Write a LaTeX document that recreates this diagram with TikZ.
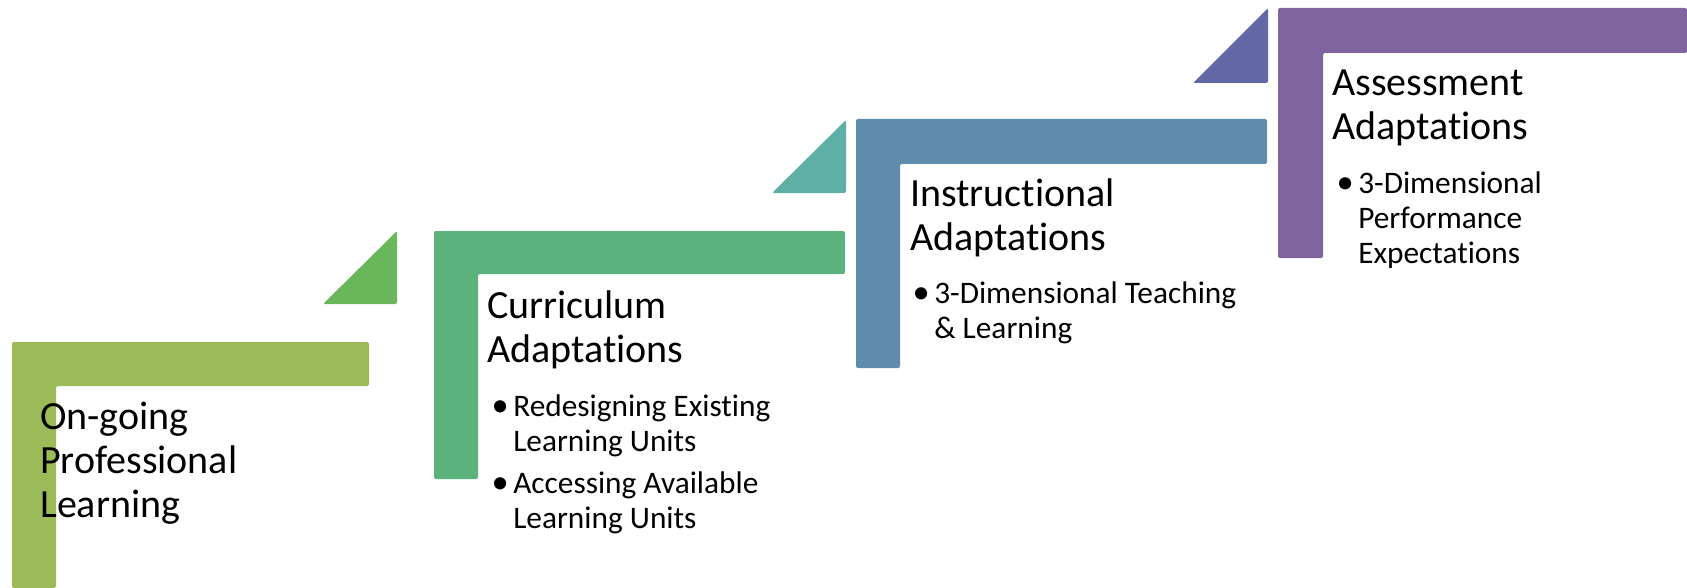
\documentclass[tikz,border=0pt]{standalone}
\usepackage{fontspec}
\setmainfont{Carlito}[Ligatures=NoCommon]
\definecolor{stepone}{RGB}{155,187,89}
\definecolor{triaone}{RGB}{106,182,90}
\definecolor{steptwo}{RGB}{92,178,125}
\definecolor{triatwo}{RGB}{94,175,165}
\definecolor{stepthree}{RGB}{95,140,172}
\definecolor{triathree}{RGB}{98,104,165}
\definecolor{stepfour}{RGB}{128,100,160}
\newcommand{\stepdot}{\makebox[12.75pt][l]{\hspace{-3.5pt}\raisebox{-0.5pt}{\scalebox{1.1}{\textbullet}}}}

\tikzset{%
  stepbar/.style={rounded corners=1.5pt},
  steptitle/.style={anchor=base west, align=left, inner sep=0pt, font=\fontsize{30}{33}\selectfont},
  stepitem/.style={anchor=base west, align=left, inner sep=0pt, font=\fontsize{23.5}{26.5}\selectfont},
}

\begin{document}
\begin{tikzpicture}[x=0.75pt, y=-0.75pt]
\useasboundingbox (0,0) rectangle (1687,588);
% steps
\fill[stepone,stepbar] (12,342) -- (369,342) -- (369,386) -- (56,386) -- (56,588) -- (12,588) -- cycle;
\fill[steptwo,stepbar] (434,231) -- (845,231) -- (845,274) -- (478,274) -- (478,479) -- (434,479) -- cycle;
\fill[stepthree,stepbar] (856,119) -- (1267,119) -- (1267,164) -- (900,164) -- (900,368) -- (856,368) -- cycle;
\fill[stepfour,stepbar] (1278,8) -- (1687,8) -- (1687,53) -- (1323,53) -- (1323,258) -- (1278,258) -- cycle;
% triangles
\fill[triaone,stepbar] (323,304) -- (397,304) -- (397,231) -- cycle;
\fill[triatwo,stepbar] (772,193) -- (846,193) -- (846,120) -- cycle;
\fill[triathree,stepbar] (1193,83) -- (1268,83) -- (1268,8) -- cycle;
% titles (placed at their last baseline)
\node[steptitle] (t1) at (40,517) {On-going\\Professional\\Learning};
\node[steptitle] (t2) at (487,362) {Curriculum\\Adaptations};
\node[steptitle] (t3) at (910,250) {Instructional\\Adaptations};
\node[steptitle] (t4) at (1332,140) {Assessment\\Adaptations};
% bullets
\node[stepitem] (c1) at (496,416) {\begin{tabular}[t]{@{}l@{}l@{}}\stepdot & Redesigning Existing\\ & Learning Units\end{tabular}};
\node[stepitem] (c2) at (496,493) {\begin{tabular}[t]{@{}l@{}l@{}}\stepdot & Accessing Available\\ & Learning Units\end{tabular}};
\node[stepitem] (i1) at (917,303) {\begin{tabular}[t]{@{}l@{}l@{}}\stepdot & 3-Dimensional Teaching\\ & \& Learning\end{tabular}};
\node[stepitem] (a1) at (1341,193) {\begin{tabular}[t]{@{}l@{}l@{}}\stepdot & 3-Dimensional\\ & Performance\\ & Expectations\end{tabular}};
\end{tikzpicture}
\end{document}
